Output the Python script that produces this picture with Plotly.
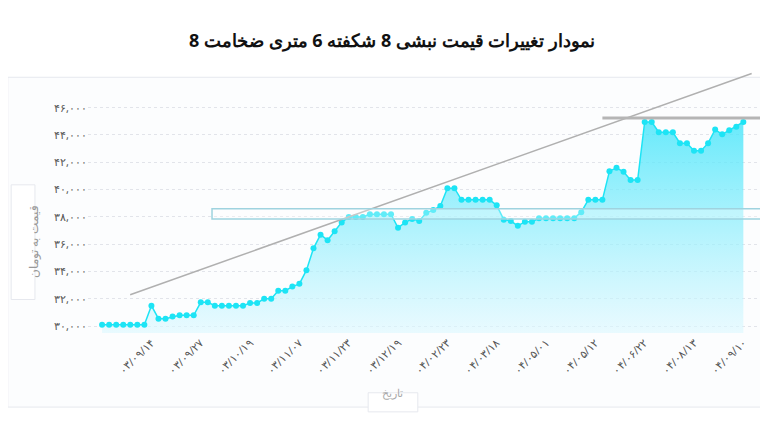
import plotly.graph_objects as go

prices = [30100] * 7 + [31500, 30550, 30550, 30700, 30800, 30800, 30800,
          31750, 31750, 31500, 31500, 31500, 31500, 31500, 31700, 31700,
          32000, 32000, 32600, 32600, 32900, 33100, 34100, 35700, 36700,
          36300, 36950, 37600, 38000, 38000, 38000, 38200, 38200, 38200,
          38200, 37200, 37600, 37850, 37700, 38300, 38500, 38800, 40100,
          40100, 39250, 39250, 39250, 39250, 39250, 38850, 37800, 37700,
          37350, 37650, 37650, 37900, 37900, 37900, 37900, 37900, 37900,
          38350, 39250, 39250, 39250, 41350, 41600, 41300, 40700, 40700,
          44950, 44950, 44200, 44200, 44200, 43400, 43400, 42850, 42850,
          43400, 44400, 44050, 44350, 44600, 44950]
idx = list(range(len(prices)))

tick_idx = [7, 14, 21, 28, 35, 42, 49, 56, 63, 70, 77, 84, 91]
tick_labels = ['۰۳/۰۹/۱۴', '۰۳/۰۹/۲۷', '۰۳/۱۰/۱۹', '۰۳/۱۱/۰۷', '۰۳/۱۱/۲۳',
               '۰۳/۱۲/۱۹', '۰۴/۰۲/۲۳', '۰۴/۰۳/۱۸', '۰۴/۰۵/۰۱', '۰۴/۰۵/۱۲',
               '۰۴/۰۶/۲۲', '۰۴/۰۸/۱۳', '۰۴/۰۹/۱۰']
y_vals = [30000, 32000, 34000, 36000, 38000, 40000, 42000, 44000, 46000]
y_labels = ['۳۰,۰۰۰', '۳۲,۰۰۰', '۳۴,۰۰۰', '۳۶,۰۰۰', '۳۸,۰۰۰',
            '۴۰,۰۰۰', '۴۲,۰۰۰', '۴۴,۰۰۰', '۴۶,۰۰۰']

fig = go.Figure()

fig.add_trace(
    go.Scatter(
        x=idx
        , y=prices
        , mode='lines+markers'
        , line=dict(color='#1de4f5', width=1.5)
        , marker=dict(color='#1de4f5', size=6)
        , fill='tozeroy'
        , fillgradient=dict(
            type='vertical'
            , start=29500
            , stop=45500
            , colorscale=[[0, 'rgba(220,248,255,0.6)'], [1, 'rgba(60,228,250,0.8)']]
        )
        , showlegend=False
    )
)

shapes = [
    # card
    dict(type='rect', xref='paper', yref='paper', x0=-0.118, x1=1.0, y0=-0.31, y1=1.07,
         line=dict(color='#e6e8ee', width=1), fillcolor='rgba(250,251,253,0.6)', layer='below'),
    # trend line (paper coords so it can run past the plot top)
    dict(type='line', xref='paper', yref='paper', x0=0.062, x1=0.976, y0=0.16, y1=1.086,
         line=dict(color='#b0b0b0', width=1.5)),
    # support box
    dict(type='rect', x0=15.6, x1=93.7, y0=37850, y1=38600,
         line=dict(color='#9fd3df', width=1.5), fillcolor='rgba(255,255,255,0.3)'),
    # resistance line
    dict(type='line', x0=71, x1=94.5, y0=45240, y1=45240, line=dict(color='#b5b5b5', width=3)),
    # y title box
    dict(type='rect', xref='paper', yref='paper', x0=-0.113, x1=-0.078, y0=0.14, y1=0.62,
         line=dict(color='#e6e8ee', width=1), fillcolor='white'),
    # x title box
    dict(type='rect', xref='paper', yref='paper', x0=0.412, x1=0.485, y0=-0.33, y1=-0.25,
         line=dict(color='#e6e8ee', width=1), fillcolor='white'),
]

fig.update_layout(
    width=768, height=444
    , paper_bgcolor='white', plot_bgcolor='rgba(0,0,0,0)'
    , margin=dict(l=80, r=8, t=86, b=119)
    , title=dict(text='<b>نمودار تغییرات قیمت نبشی 8 شکفته 6 متری ضخامت 8</b>',
                 x=0.5, y=0.94, xanchor='center',
                 font=dict(family='Noto Sans', size=18, color='#111'))
    , xaxis=dict(range=[-2, 94.5], tickvals=tick_idx, ticktext=tick_labels, tickangle=-45,
                 showgrid=False, zeroline=False,
                 tickfont=dict(family='Noto Sans', size=11, color='#555'))
    , yaxis=dict(range=[29500, 47000], tickvals=y_vals, ticktext=y_labels,
                 gridcolor='#e2e4ea', griddash='dot', zeroline=False,
                 tickfont=dict(family='Noto Sans', size=11, color='#555'))
    , shapes=shapes
    , annotations=[
        dict(text='قیمت به تومان', xref='paper', yref='paper', x=-0.0955, y=0.38,
             textangle=-90, showarrow=False, font=dict(family='Noto Sans', size=12, color='#999')),
        dict(text='تاریخ', xref='paper', yref='paper', x=0.4485, y=-0.29,
             showarrow=False, font=dict(family='Noto Sans', size=11, color='#aaa')),
    ]
)

fig.write_html("out.html")
